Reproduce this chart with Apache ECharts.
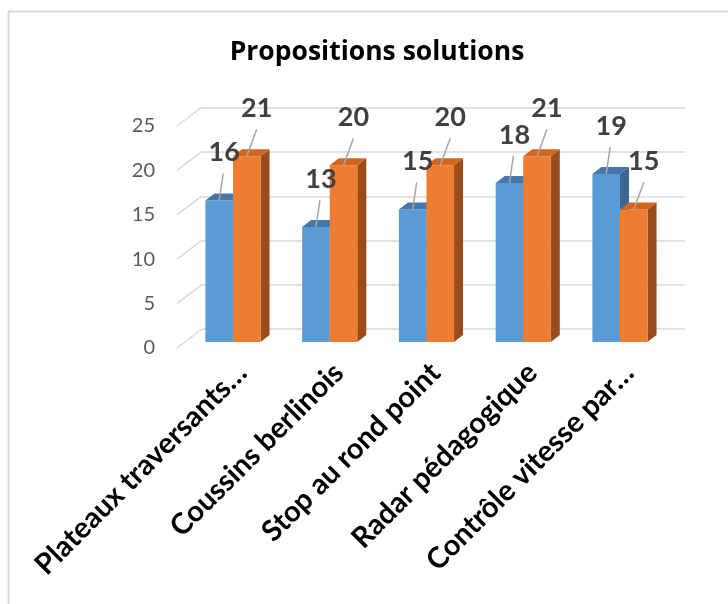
<!DOCTYPE html>
<html><head><meta charset="utf-8">
<script src="https://cdn.jsdelivr.net/npm/echarts@6/dist/echarts.min.js"></script>
<style>html,body{margin:0;padding:0;background:#fff}#c{width:728px;height:604px}</style>
</head><body><div id="c"></div>
<script>
const categories = ['Plateaux traversants…', 'Coussins berlinois', 'Stop au rond point', 'Radar pédagogique', 'Contrôle vitesse par…'];
const serie1 = [16, 13, 15, 18, 19];
const serie2 = [21, 20, 20, 21, 15];
const yMin = 0, yMax = 25, yStep = 5;
const yTicks = [0, 5, 10, 15, 20, 25];

const FONT = 'Lato, "Open Sans", sans-serif';
const DEPTH_X = 9, DEPTH_Y = -7;
const FLOOR_X = 25, FLOOR_Y = -19;
const BAR_FRAC = 0.285;

function barRender(side, colors) {
  return function (params, api) {
    const idx = api.value(0), v = api.value(1);
    const base = api.coord([idx, 0]);
    const top = api.coord([idx, v]);
    const w = api.size([1, 0])[0] * BAR_FRAC;
    const x0 = side < 0 ? base[0] - w : base[0];
    const x1 = x0 + w;
    const yT = top[1], yB = base[1];
    return { type: 'group', children: [
      { type: 'polygon', shape: { points: [[x1, yT], [x1 + DEPTH_X, yT + DEPTH_Y], [x1 + DEPTH_X, yB + DEPTH_Y], [x1, yB]] }, style: { fill: colors.side } },
      { type: 'rect', shape: { x: x0, y: yT, width: w, height: yB - yT }, style: { fill: colors.front } },
      { type: 'polygon', shape: { points: [[x0, yT], [x0 + DEPTH_X, yT + DEPTH_Y], [x1 + DEPTH_X, yT + DEPTH_Y], [x1, yT]] }, style: { fill: colors.top } }
    ] };
  };
}

function labelRender(side, dxLine, dxText) {
  return function (params, api) {
    const idx = api.value(0), v = api.value(1);
    const base = api.coord([idx, 0]);
    const top = api.coord([idx, v]);
    const w = api.size([1, 0])[0] * BAR_FRAC;
    const cx = side < 0 ? base[0] - w / 2 : base[0] + w / 2;
    const yT = top[1];
    return { type: 'group', children: [
      { type: 'line', shape: { x1: cx, y1: yT, x2: cx + dxLine, y2: yT - 27 }, style: { stroke: '#a6a6a6', lineWidth: 1.5 } },
      { type: 'text', x: cx + dxText, y: yT - 48, style: { text: String(v), fill: '#404040', fontFamily: 'Lato', fontWeight: 'bold', fontSize: 27, align: 'center', verticalAlign: 'middle' } }
    ] };
  };
}

const chart = echarts.init(document.getElementById('c'));
const blue = { front: '#5b9bd5', top: '#4677a8', side: '#3a6690' };
const orange = { front: '#ed7d31', top: '#d3661f', side: '#9b4c1c' };

chart.setOption({
  backgroundColor: '#fff',
  animation: false,
  title: { text: 'Propositions solutions', left: 372, top: 34, textAlign: 'center',
    textStyle: { fontFamily: '"Open Sans", sans-serif', fontWeight: 'bold', fontSize: 26.5, color: '#000' } },
  graphic: [{ type: 'rect', left: 6, top: 9, shape: { width: 800, height: 700 }, style: { fill: 'none', stroke: '#d9d9d9', lineWidth: 2 }, z: -1 }],
  grid: [
    { left: 202, top: 108, width: 483, height: 221 },
    { left: 177, top: 126, width: 483, height: 222 },
    { left: 184.6, top: 121, width: 483.75, height: 221 },
    { left: 193.6, top: 121, width: 483.75, height: 221 }
  ],
  xAxis: [
    { gridIndex: 0, type: 'value', min: 0, max: 1, show: false },
    { gridIndex: 1, type: 'value', min: 0, max: 1, show: false },
    { gridIndex: 2, type: 'category', data: categories, show: false },
    { gridIndex: 3, type: 'category', data: categories, axisLine: { show: false }, axisTick: { show: false },
      axisLabel: { rotate: 45, interval: 0, margin: 26, fontFamily: FONT, fontWeight: 'bold', fontSize: 29, color: '#000' } }
  ],
  yAxis: [
    { gridIndex: 0, type: 'value', min: yMin, max: yMax, interval: yStep, axisLabel: { show: false }, axisLine: { show: false }, axisTick: { show: false },
      splitLine: { lineStyle: { color: '#d9d9d9', width: 1.5 } } },
    { gridIndex: 1, type: 'value', min: yMin, max: yMax, interval: yStep, axisLine: { show: false }, axisTick: { show: false }, splitLine: { show: false },
      axisLabel: { margin: 22, fontFamily: FONT, fontSize: 20, color: '#595959' } },
    { gridIndex: 2, type: 'value', min: yMin, max: yMax, show: false },
    { gridIndex: 3, type: 'value', min: yMin, max: yMax, show: false }
  ],
  series: [
    { type: 'custom', name: 'floor', xAxisIndex: 1, yAxisIndex: 1, data: yTicks.map(v => [0, v]), silent: true,
      renderItem: function (params, api) {
        const p = api.coord([0, api.value(1)]);
        return { type: 'line', shape: { x1: p[0], y1: p[1], x2: p[0] + FLOOR_X, y2: p[1] + FLOOR_Y }, style: { stroke: '#d9d9d9', lineWidth: 1.5 } };
      } },
    { type: 'custom', name: 'Série 1', xAxisIndex: 2, yAxisIndex: 2, data: serie1.map((v, i) => [i, v]), renderItem: barRender(-1, blue), z: 2 },
    { type: 'custom', name: 'Série 2', xAxisIndex: 2, yAxisIndex: 2, data: serie2.map((v, i) => [i, v]), renderItem: barRender(1, orange), z: 3 },
    { type: 'custom', name: 'lab1', xAxisIndex: 2, yAxisIndex: 2, data: serie1.map((v, i) => [i, v]), renderItem: labelRender(-1, 4, 5), z: 4 },
    { type: 'custom', name: 'lab2', xAxisIndex: 2, yAxisIndex: 2, data: serie2.map((v, i) => [i, v]), renderItem: labelRender(1, 10, 10), z: 4 }
  ]
});
</script></body></html>
